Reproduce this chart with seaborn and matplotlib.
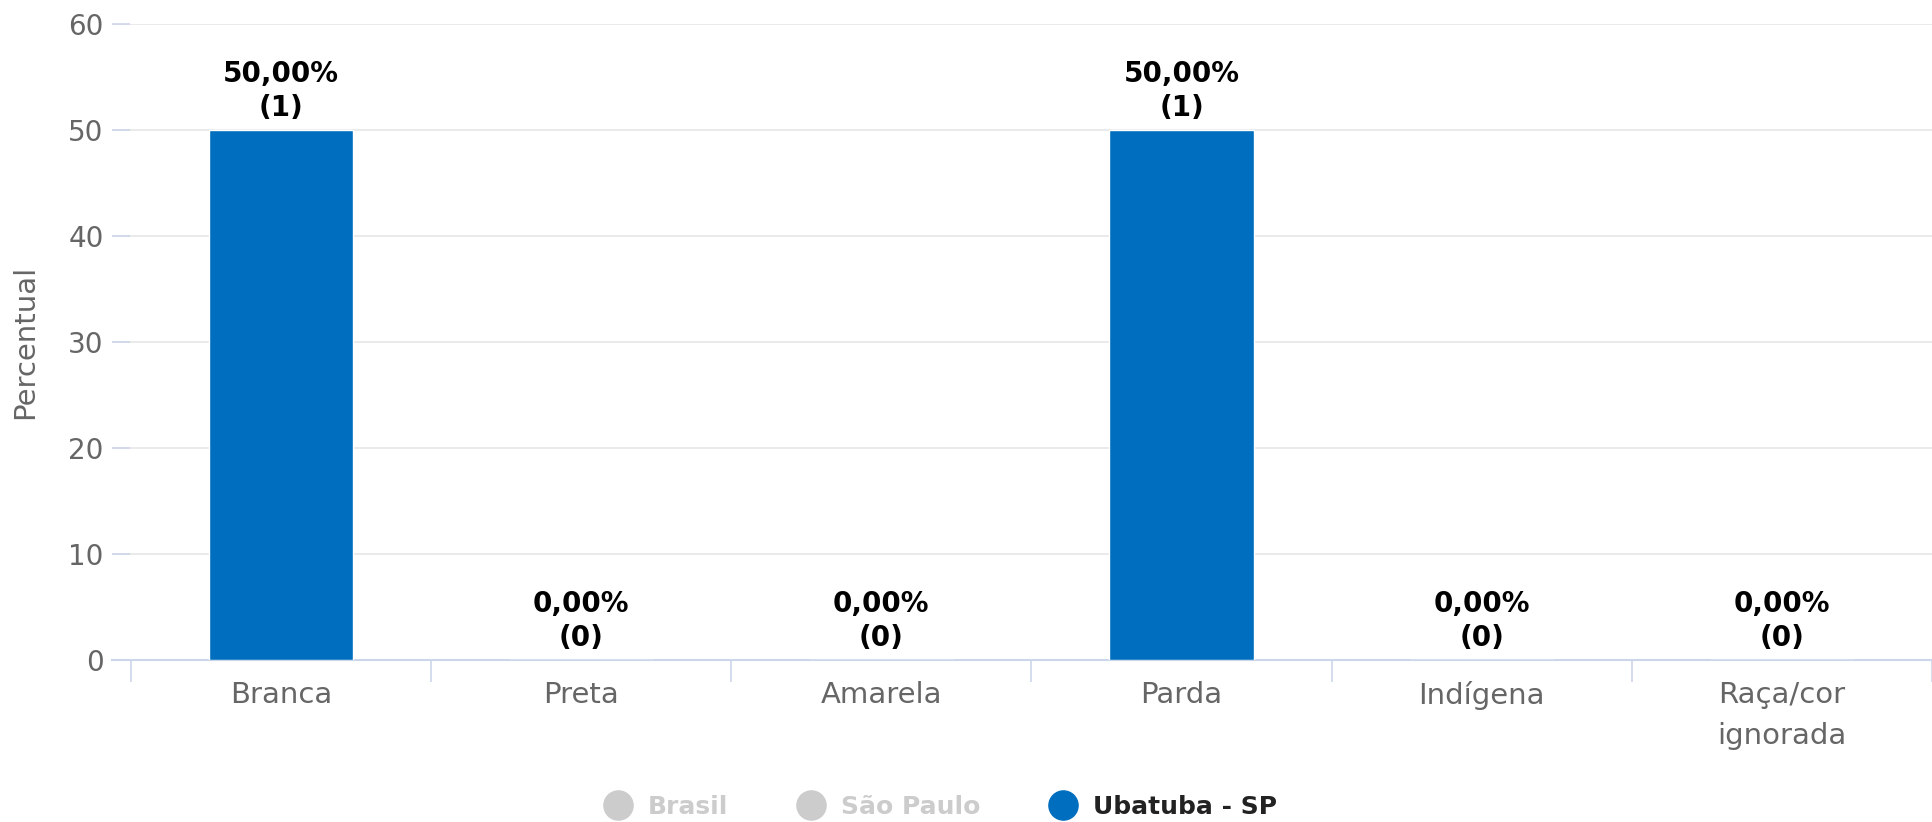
import numpy as np
import pandas as pd
import seaborn as sns
import matplotlib.pyplot as plt
from matplotlib.lines import Line2D

categorias = ["Branca", "Preta", "Amarela", "Parda", "Indígena", "Raça/cor\nignorada"]
percentual = [50.0, 0.0, 0.0, 50.0, 0.0, 0.0]
contagem = [1, 0, 0, 1, 0, 0]
series = ["Brasil", "São Paulo", "Ubatuba - SP"]
serie_visivel = "Ubatuba - SP"

azul = "#006EBE"
cinza_txt = "#666666"
linha = "#CCD6EB"
grade = "#E6E6E6"

sns.set_theme(style="white")
plt.rcParams['font.family'] = ['DejaVu Sans']

df = pd.DataFrame({"categoria": categorias, "percentual": percentual, "n": contagem})

fig = plt.figure(figsize=(19.32, 8.22), dpi=100)
ax = fig.add_axes([112 / 1932, 1 - 660 / 822, 1 - 112 / 1932, (660 - 24) / 822])

sns.barplot(data=df, x="categoria", y="percentual", color=azul, width=0.481,
            saturation=1, ax=ax, zorder=3)

ax.set_ylim(0, 60)
ax.set_xlim(-0.563, 5.444)
ax.set_yticks(range(0, 61, 10))
ax.yaxis.grid(True, color=grade, linewidth=1.2, zorder=0)
for s in ["top", "right", "left"]:
    ax.spines[s].set_visible(False)
ax.spines["bottom"].set_color(linha)
ax.spines["bottom"].set_linewidth(1.5)

ax.tick_params(axis="y", left=True, direction="in", length=13, color=linha, width=1.2,
               labelsize=20, labelcolor=cinza_txt, pad=6)
ax.set_xticks(np.arange(len(categorias)))
ax.set_xticklabels(categorias, fontsize=21, color=cinza_txt, linespacing=1.6)
ax.tick_params(axis="x", which="major", bottom=True, length=0, pad=15)
# separadores entre categorias
ax.set_xticks(np.arange(len(categorias) + 1) - 0.5, minor=True)
ax.tick_params(axis="x", which="minor", bottom=True, length=16, color=linha, width=1.2)

ax.set_xlabel("")
ax.set_ylabel("Percentual", fontsize=21, color=cinza_txt, labelpad=21)

for i, (p, n) in enumerate(zip(percentual, contagem)):
    txt = f"{p:.2f}".replace(".", ",") + f"%\n({n})"
    ax.annotate(txt, xy=(i, p), xytext=(0, 6), textcoords="offset points",
                ha="center", va="bottom", fontsize=20, fontweight="bold",
                color="black", linespacing=1.25)

handles = []
for s in series:
    c = azul if s == serie_visivel else "#CCCCCC"
    handles.append(Line2D([0], [0], marker="o", linestyle="none", markersize=21,
                          markerfacecolor=c, markeredgecolor=c))
leg = fig.legend(handles, series, loc="center", bbox_to_anchor=(0.484, 1 - 807 / 822),
                 ncol=3, frameon=False, handletextpad=0.2,
                 columnspacing=2.3, prop={"weight": "bold", "size": 18})
for t, s in zip(leg.get_texts(), series):
    t.set_color("#222222" if s == serie_visivel else "#CCCCCC")

fig.savefig("out.png", dpi=100)
